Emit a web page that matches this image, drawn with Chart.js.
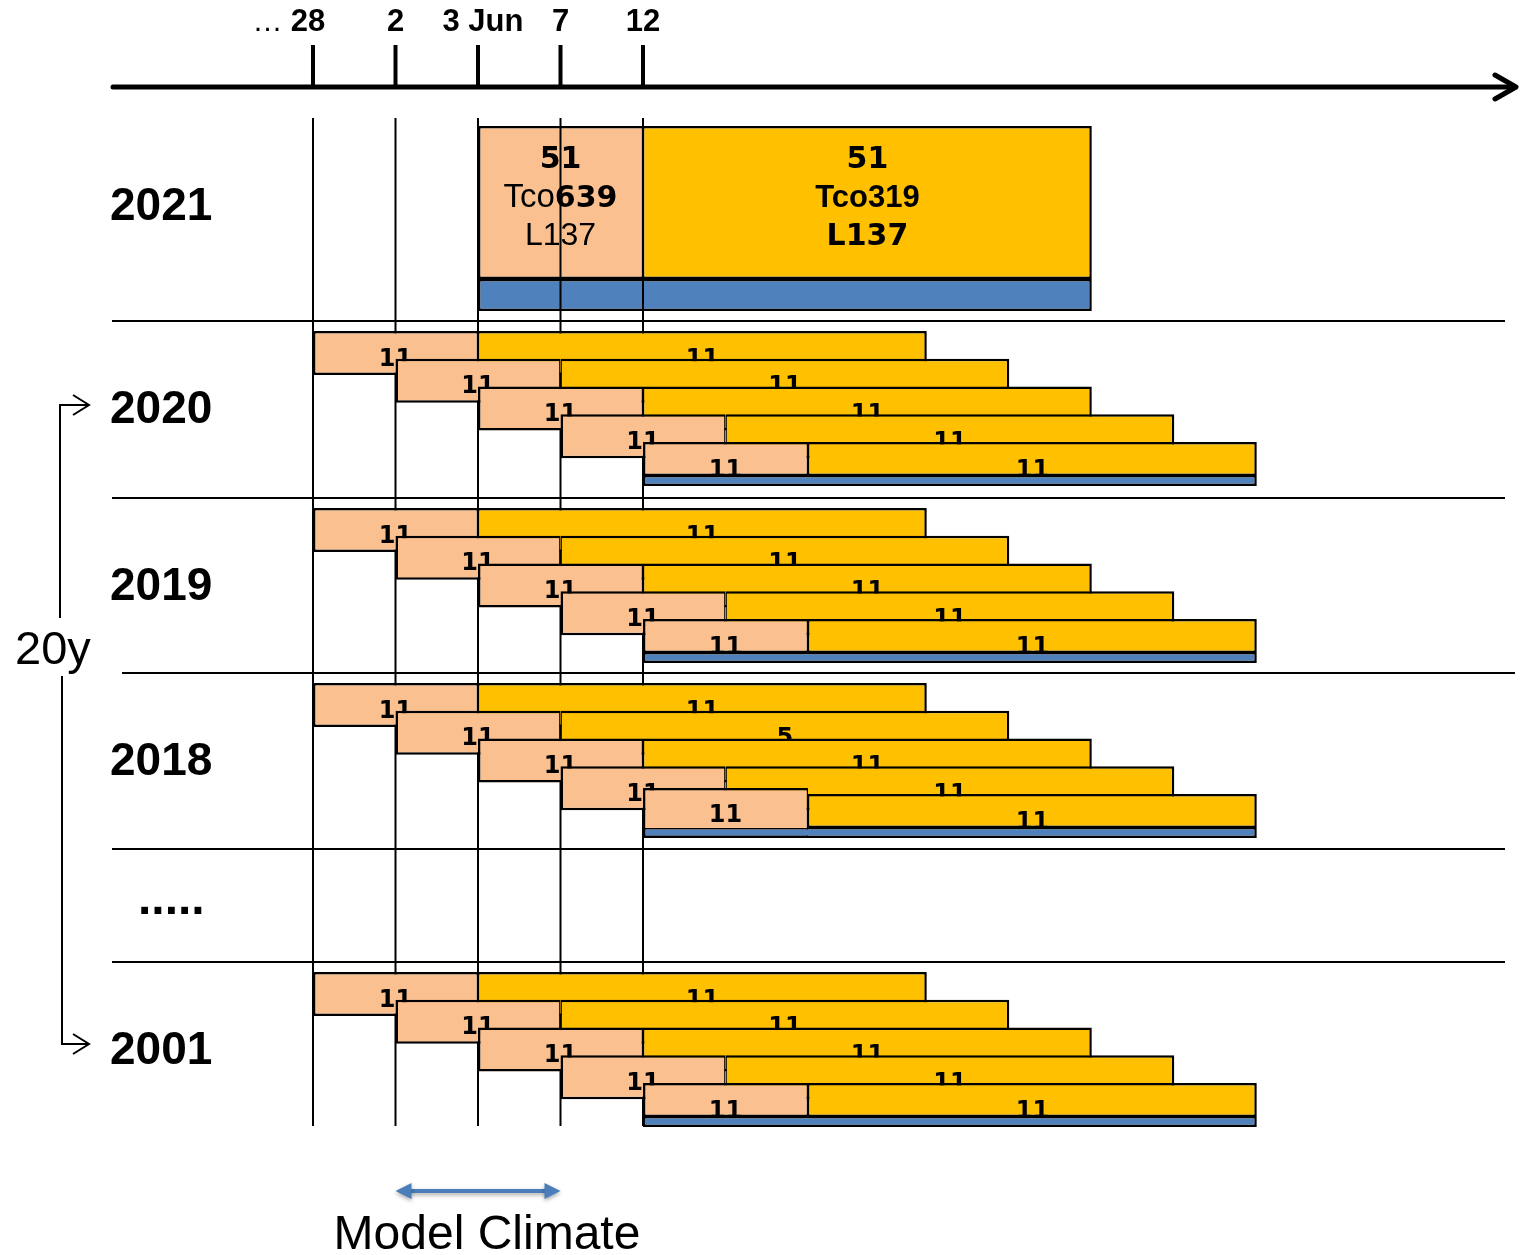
<!DOCTYPE html>
<html><head><meta charset="utf-8">
<script src="https://cdn.jsdelivr.net/npm/chart.js@4/dist/chart.umd.min.js"></script>
<style>html,body{margin:0;padding:0;background:#fff}canvas{display:block}</style>
</head><body>
<canvas id="c" width="1529" height="1255"></canvas>
<script>
// ================= DATA =================
const tickLabels = ['28', '2', '3 Jun', '7', '12'];
const firstTickPrefix = '\u2026 ';
const forecastYear = '2021';
const forecastStart = 2;            // start date index on the time axis
const highResSpan = 2;              // length of the high-resolution leg (axis steps)
const forecastSpan = 7.44;          // full forecast length (axis steps)
const forecastHighResText = ['51', 'Tco639', 'L137'];
const forecastLowResText = ['51', 'Tco319', 'L137'];
const hindcastYears = ['2020', '2019', '2018', '2001'];
const hindcastStarts = [0, 1, 2, 3, 4];
const hindcastHighResMembers = [
  ['11', '11', '11', '11', '11'],
  ['11', '11', '11', '11', '11'],
  ['11', '11', '11', '11', '11'],
  ['11', '11', '11', '11', '11']
];
const hindcastLowResMembers = [
  ['11', '11', '11', '11', '11'],
  ['11', '11', '11', '11', '11'],
  ['11', '5', '11', '11', '11'],
  ['11', '11', '11', '11', '11']
];
const gapLabel = '.....';
const rangeLabel = '20y';
const climateLabel = 'Model Climate';
const climateRange = [1, 3];        // axis indices spanned by the model-climate arrow

// ================= LAYOUT / STYLE =================
const W = 1529, H = 1255;
const X_ORIGIN = 313, X_STEP = 82.5;
const AXIS_Y = 87, TICK_TOP = 45, AXIS_X0 = 113, AXIS_X1 = 1515;
const GRID_TOP = 118, GRID_BOTTOM = 1126;
const FC_TOP = 126, FC_MAIN_H = 153, FC_STRIP_H = 32;
const SEPARATORS = [[321, 112, 1505], [498, 112, 1505], [673, 122, 1515], [849, 112, 1505], [962, 112, 1505]];
const BAND_TOPS = [321, 498, 673, 962];
const GAP_BAND = [849, 962];
const ROW_PAD = 10, ROW_PITCH = 27.75, ROW_H = 44, LAST_MAIN_H = 34, LAST_STRIP_H = 10;
const RAISED_LAST = { group: 2, raise: 6, height: 50 };
const TICK_DX = [-5, 0, 5, 0, 0];
const ORANGE = '#FAC090', YELLOW = '#FFC000', BLUE = '#4F81BD', ARROW_BLUE = '#4A7EBB';
const BW = 2.5, BW_IN = 1.4;
const B_FULL = BW;
const B_LEFTPART = { top: BW, bottom: BW, left: BW, right: BW_IN };
const B_RIGHTPART = { top: BW, bottom: BW, left: BW_IN, right: BW };
const F_NUM = 'bold 24px "DejaVu Sans"';
const F_NUM_L = 'bold 30px "DejaVu Sans"';
const F_ARIAL_L = '32px "Liberation Sans"';
const F_ARIAL_LB = 'bold 31px "Liberation Sans"';
const F_YEAR = 'bold 46px "Liberation Sans"';
const F_TICK = 'bold 31px "Liberation Sans"';

// ================= DATASETS =================
const datasets = [];
let seq = 0;
function addBar(bars, thickness, colors, borders, labels) {
  datasets.push({
    type: 'bar', data: bars, backgroundColor: colors,
    borderColor: '#000', borderWidth: borders, borderSkipped: false,
    barThickness: thickness, grouped: false, inflateAmount: 0,
    order: -(seq++), labelSpec: labels
  });
}
function addLine(points) {
  datasets.push({
    type: 'line', data: points, borderColor: '#000', borderWidth: 2,
    pointRadius: 0, fill: false, tension: 0, order: -(seq++)
  });
}
function split(t) { const m = t.match(/^([A-Za-z]+)(\d+)$/); return m ? [m[1], m[2]] : [t, '']; }

// forecast 2021
const fcEnd = forecastStart + forecastSpan, fcMid = forecastStart + highResSpan;
const hr = split(forecastHighResText[1]);
addBar(
  [{ x: [forecastStart, fcMid], y: FC_TOP + FC_MAIN_H / 2 }, { x: [fcMid, fcEnd], y: FC_TOP + FC_MAIN_H / 2 }],
  FC_MAIN_H, [ORANGE, YELLOW], [B_LEFTPART, B_RIGHTPART],
  [
    [{ base: 42, runs: [{ text: forecastHighResText[0], font: F_NUM_L }] },
     { base: 81, runs: [{ text: hr[0], font: '33px "Liberation Sans"' }, { text: hr[1], font: F_NUM_L }] },
     { base: 119, runs: [{ text: forecastHighResText[2], font: F_ARIAL_L }] }],
    [{ base: 42, runs: [{ text: forecastLowResText[0], font: F_NUM_L }] },
     { base: 81, runs: [{ text: forecastLowResText[1], font: F_ARIAL_LB }] },
     { base: 119, runs: [{ text: forecastLowResText[2], font: F_NUM_L }] }]
  ]);
addBar([{ x: [forecastStart, fcEnd], y: FC_TOP + FC_MAIN_H + FC_STRIP_H / 2 }], FC_STRIP_H, [BLUE], B_FULL, null);

// vertical start-date lines
tickLabels.forEach((_, i) => addLine([{ x: i, y: GRID_TOP }, { x: i, y: GRID_BOTTOM }]));

// hindcasts
hindcastYears.forEach((yr, g) => {
  const top0 = BAND_TOPS[g] + ROW_PAD;
  hindcastStarts.forEach((s, r) => {
    const top = top0 + r * ROW_PITCH;
    const mid = s + highResSpan, end = s + forecastSpan;
    const hrLbl = hindcastHighResMembers[g][r], lrLbl = hindcastLowResMembers[g][r];
    if (r < hindcastStarts.length - 1) {
      addBar([{ x: [s, mid], y: top + ROW_H / 2 }, { x: [mid, end], y: top + ROW_H / 2 }], ROW_H, [ORANGE, YELLOW],
        [B_LEFTPART, B_RIGHTPART],
        [[{ base: 34.5, runs: [{ text: hrLbl, font: F_NUM }] }], [{ base: 34.5, runs: [{ text: lrLbl, font: F_NUM }] }]]);
    } else {
      addBar([{ x: [mid, end], y: top + LAST_MAIN_H / 2 }], LAST_MAIN_H, [YELLOW], B_RIGHTPART,
        [[{ base: 34.5, runs: [{ text: lrLbl, font: F_NUM }] }]]);
      if (g === RAISED_LAST.group) {
        const t2 = top - RAISED_LAST.raise;
        addBar([{ x: [s, mid], y: t2 + RAISED_LAST.height / 2 }], RAISED_LAST.height, [ORANGE], B_LEFTPART,
          [[{ base: 34, runs: [{ text: hrLbl, font: F_NUM }] }]]);
      } else {
        addBar([{ x: [s, mid], y: top + LAST_MAIN_H / 2 }], LAST_MAIN_H, [ORANGE], B_LEFTPART,
          [[{ base: 34.5, runs: [{ text: hrLbl, font: F_NUM }] }]]);
      }
      addBar([{ x: [s, end], y: top + LAST_MAIN_H + LAST_STRIP_H / 2 }], LAST_STRIP_H, [BLUE],
        { top: BW_IN, bottom: BW, left: BW, right: BW }, null);
    }
  });
});

// ================= DRAW HELPERS =================
function drawRuns(ctx, runs, cx, baseline) {
  let total = 0;
  runs.forEach(r => { ctx.font = r.font; r.w = ctx.measureText(r.text).width; total += r.w; });
  let x = cx - total / 2;
  ctx.textAlign = 'left'; ctx.textBaseline = 'alphabetic'; ctx.fillStyle = '#000';
  runs.forEach(r => { ctx.font = r.font; ctx.fillText(r.text, x, baseline); x += r.w; });
}
function chevron(ctx, tipX, tipY, len, half, lw) {
  ctx.beginPath();
  ctx.moveTo(tipX - len, tipY - half); ctx.lineTo(tipX, tipY); ctx.lineTo(tipX - len, tipY + half);
  ctx.lineWidth = lw; ctx.stroke();
}

const labelPlugin = {
  id: 'rowLabels',
  afterDatasetDraw(chart, args) {
    const ds = chart.data.datasets[args.index];
    if (!ds.labelSpec) return;
    const ctx = chart.ctx;
    ctx.save();
    args.meta.data.forEach((el, i) => {
      const spec = ds.labelSpec[i]; if (!spec) return;
      const cx = (el.x + el.base) / 2, top = el.y - el.height / 2;
      spec.forEach(line => drawRuns(ctx, line.runs, cx, top + line.base));
    });
    ctx.restore();
  }
};

const decorPlugin = {
  id: 'decor',
  beforeDatasetsDraw(chart) {
    const ctx = chart.ctx, xs = chart.scales.x, ys = chart.scales.y;
    ctx.save();
    ctx.strokeStyle = '#000'; ctx.lineWidth = 2;
    SEPARATORS.forEach(([y, x0, x1]) => {
      ctx.beginPath(); ctx.moveTo(x0, ys.getPixelForValue(y)); ctx.lineTo(x1, ys.getPixelForValue(y)); ctx.stroke();
    });
    // time axis
    const ay = ys.getPixelForValue(AXIS_Y);
    ctx.lineCap = 'round'; ctx.lineJoin = 'round';
    ctx.lineWidth = 5;
    ctx.beginPath(); ctx.moveTo(AXIS_X0, ay); ctx.lineTo(AXIS_X1, ay); ctx.stroke();
    chevron(ctx, AXIS_X1 + 1, ay, 21, 12, 5);
    ctx.lineCap = 'butt';
    ctx.lineWidth = 4;
    tickLabels.forEach((lab, i) => {
      const px = xs.getPixelForValue(i);
      ctx.beginPath(); ctx.moveTo(px, ys.getPixelForValue(TICK_TOP)); ctx.lineTo(px, ay); ctx.stroke();
      const cx = px + TICK_DX[i];
      ctx.font = F_TICK;
      const w = ctx.measureText(lab).width;
      ctx.fillStyle = '#000'; ctx.textBaseline = 'alphabetic'; ctx.textAlign = 'left';
      ctx.fillText(lab, cx - w / 2, 31);
      if (i === 0) {
        ctx.font = '30px "Liberation Sans"';
        ctx.textAlign = 'right';
        ctx.fillText(firstTickPrefix, cx - w / 2, 31);
      }
    });
    ctx.restore();
  },
  afterDraw(chart) {
    const ctx = chart.ctx, xs = chart.scales.x, ys = chart.scales.y;
    ctx.save();
    ctx.fillStyle = '#000'; ctx.strokeStyle = '#000';
    ctx.textAlign = 'left'; ctx.textBaseline = 'alphabetic';
    ctx.font = F_YEAR;
    const fcCenter = ys.getPixelForValue(FC_TOP + FC_MAIN_H / 2);
    ctx.fillText(forecastYear, 110, fcCenter + 17);
    const centers = hindcastYears.map((yr, g) => ys.getPixelForValue(BAND_TOPS[g] + ROW_PAD + 75));
    hindcastYears.forEach((yr, g) => ctx.fillText(yr, 110, centers[g] + 17));
    ctx.font = 'bold 48px "Liberation Sans"';
    ctx.fillText(gapLabel, 138, ys.getPixelForValue((GAP_BAND[0] + GAP_BAND[1]) / 2) + 8);
    // 20y bracket
    ctx.font = '47px "Liberation Sans"';
    ctx.fillText(rangeLabel, 15, 664);
    ctx.lineWidth = 2;
    const yTop = centers[0] - 1, yBot = centers[centers.length - 1] - 3;
    ctx.beginPath(); ctx.moveTo(60, 618); ctx.lineTo(60, yTop); ctx.lineTo(88, yTop); ctx.stroke();
    chevron(ctx, 89, yTop, 16, 10, 2);
    ctx.beginPath(); ctx.moveTo(62, 676); ctx.lineTo(62, yBot); ctx.lineTo(88, yBot); ctx.stroke();
    chevron(ctx, 89, yBot, 16, 10, 2);
    // model climate arrow
    const ax0 = xs.getPixelForValue(climateRange[0]), ax1 = xs.getPixelForValue(climateRange[1]);
    const ay = 1191;
    ctx.shadowColor = 'rgba(0,0,0,0.35)'; ctx.shadowBlur = 4; ctx.shadowOffsetY = 2;
    ctx.strokeStyle = ARROW_BLUE; ctx.fillStyle = ARROW_BLUE; ctx.lineWidth = 4;
    ctx.beginPath(); ctx.moveTo(ax0 + 12, ay); ctx.lineTo(ax1 - 12, ay); ctx.stroke();
    ctx.beginPath(); ctx.moveTo(ax0, ay); ctx.lineTo(ax0 + 16, ay - 8); ctx.lineTo(ax0 + 16, ay + 8); ctx.closePath(); ctx.fill();
    ctx.beginPath(); ctx.moveTo(ax1, ay); ctx.lineTo(ax1 - 16, ay - 8); ctx.lineTo(ax1 - 16, ay + 8); ctx.closePath(); ctx.fill();
    ctx.shadowColor = 'transparent';
    ctx.fillStyle = '#000'; ctx.font = '48px "Liberation Sans"'; ctx.textAlign = 'center';
    ctx.fillText(climateLabel, 487, 1249);
    ctx.restore();
  }
};

new Chart(document.getElementById('c'), {
  type: 'bar',
  data: { datasets },
  options: {
    indexAxis: 'y',
    responsive: false,
    animation: false,
    events: [],
    layout: { padding: 0 },
    plugins: { legend: { display: false }, tooltip: { enabled: false } },
    scales: {
      x: { type: 'linear', display: false, offset: false, beginAtZero: false, min: -X_ORIGIN / X_STEP, max: (W - X_ORIGIN) / X_STEP },
      y: { type: 'linear', display: false, offset: false, grid: { offset: false }, min: 0, max: H, reverse: true }
    }
  },
  plugins: [labelPlugin, decorPlugin]
});
</script>
</body></html>
